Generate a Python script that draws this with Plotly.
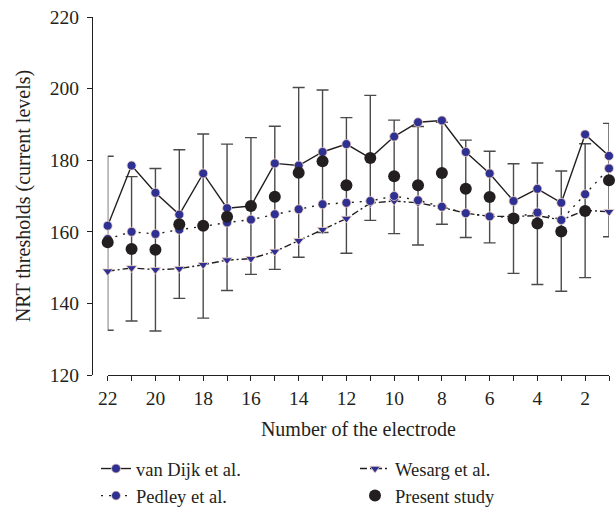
import plotly.graph_objects as go

electrodes = list(range(22, 0, -1))

van_dijk = [161.7, 178.5, 170.9, 164.8, 176.3, 166.6, 167.2, 179.1, 178.5, 182.3, 184.5,
            180.6, 186.6, 190.6, 191.1, 182.3, 176.3, 168.6, 172.0, 168.1, 187.2, 181.2]
pedley = [158.0, 160.0, 159.4, 160.6, 161.5, 162.6, 163.4, 164.9, 166.3, 167.7, 168.1,
          168.6, 170.0, 168.8, 167.0, 165.2, 164.3, 164.0, 165.4, 163.3, 170.5, 177.7]
wesarg = [149.0, 149.9, 149.4, 149.7, 150.8, 152.1, 152.5, 154.5, 157.5, 160.6, 163.7,
          168.0, 168.6, 168.1, 166.8, 165.2, 164.3, 164.3, 164.5, 163.3, 166.0, 165.6]
present = [157.1, 155.2, 155.0, 162.1, 161.7, 164.2, 167.2, 169.8, 176.5, 179.7, 173.0,
           180.6, 175.5, 173.0, 176.4, 172.0, 169.7, 163.7, 162.3, 160.1, 165.8, 174.4]
present_upper = [181.1, 175.4, 177.7, 182.9, 187.3, 184.5, 186.3, 189.5, 200.3, 199.6, 191.9,
                 198.1, 191.2, 189.4, 190.6, 185.6, 182.5, 179.0, 179.2, 177.0, 184.6, 190.3]
present_lower = [132.5, 135.1, 132.3, 141.4, 135.9, 143.6, 148.1, 149.5, 152.9, 159.8, 154.0,
                 163.2, 159.5, 156.3, 162.1, 158.4, 156.9, 148.4, 145.3, 143.4, 147.2, 158.6]

y_ticks = [120, 140, 160, 180, 200, 220]
x_tickvals = list(range(1, 23))
x_ticktext = [str(v) if v % 2 == 0 else "" for v in x_tickvals]

FONT = "Liberation Serif, Times New Roman, serif"
INK = "#231F20"
BLUE = "#2E3192"
EDGE = "#F2D3C0"

err_plus = [u - m for u, m in zip(present_upper, present)]
err_minus = [m - l for m, l in zip(present, present_lower)]

fig = go.Figure()

# error bars of the present study (drawn beneath everything)
fig.add_trace(go.Scatter(
    x=electrodes, y=present, mode="markers",
    marker=dict(size=1, color="rgba(0,0,0,0)"),
    error_y=dict(type="data", symmetric=False, array=err_plus, arrayminus=err_minus,
                 color="#4A4A4A", thickness=1.4, width=6),
    showlegend=False, hoverinfo="skip", cliponaxis=False))

fig.add_trace(go.Scatter(
    x=electrodes, y=van_dijk, mode="lines+markers", name="van Dijk et al.",
    line=dict(color=INK, width=1.4),
    marker=dict(symbol="circle", size=9, color=BLUE, line=dict(color=EDGE, width=0.8)),
    legendrank=1, cliponaxis=False))

fig.add_trace(go.Scatter(
    x=electrodes, y=wesarg, mode="lines+markers", name="Wesarg et al.",
    line=dict(color=INK, width=1.4, dash="7px,3px,2px,3px"),
    marker=dict(symbol="triangle-down", size=9, color=BLUE, line=dict(color=EDGE, width=0.8)),
    legendrank=2, cliponaxis=False))

fig.add_trace(go.Scatter(
    x=electrodes, y=pedley, mode="lines+markers", name="Pedley et al.",
    line=dict(color=INK, width=1.4, dash="2px,6px"),
    marker=dict(symbol="circle", size=9, color=BLUE, line=dict(color=EDGE, width=0.8)),
    legendrank=3, cliponaxis=False))

fig.add_trace(go.Scatter(
    x=electrodes, y=present, mode="markers", name="Present study",
    marker=dict(symbol="circle", size=12, color=INK),
    legendrank=4, cliponaxis=False))

fig.update_layout(
    width=616, height=509,
    margin=dict(l=92, r=7, t=15, b=134),
    paper_bgcolor="white", plot_bgcolor="white",
    font=dict(family=FONT, size=19, color=INK),
    xaxis=dict(
        domain=[15.7 / 517, 1], range=[22, 1],
        tickmode="array", tickvals=x_tickvals, ticktext=x_ticktext,
        ticks="outside", ticklen=5, tickwidth=1.2, tickcolor=INK,
        showline=True, linecolor=INK, linewidth=1.3,
        showgrid=False, zeroline=False,
        tickfont=dict(family=FONT, size=19.5, color=INK),
        title=dict(text="Number of the electrode", font=dict(family=FONT, size=20, color=INK),
                   standoff=14),
    ),
    yaxis=dict(
        anchor="free", position=0, range=[120, 220],
        tickmode="array", tickvals=y_ticks,
        ticks="outside", ticklen=5, tickwidth=1.2, tickcolor=INK,
        showline=True, linecolor=INK, linewidth=1.3,
        showgrid=False, zeroline=False, ticklabelstandoff=4,
        tickfont=dict(family=FONT, size=19.5, color=INK),
        title=dict(text="NRT thresholds (current levels)",
                   font=dict(family=FONT, size=20, color=INK), standoff=12),
    ),
    legend=dict(
        orientation="h", xref="container", yref="container",
        x=96 / 616, y=1 - 450 / 509, xanchor="left", yanchor="top",
        entrywidth=214, entrywidthmode="pixels",
        font=dict(family=FONT, size=18.5, color=INK),
        bgcolor="rgba(0,0,0,0)", traceorder="normal",
    ),
)

fig.write_html("out.html")
